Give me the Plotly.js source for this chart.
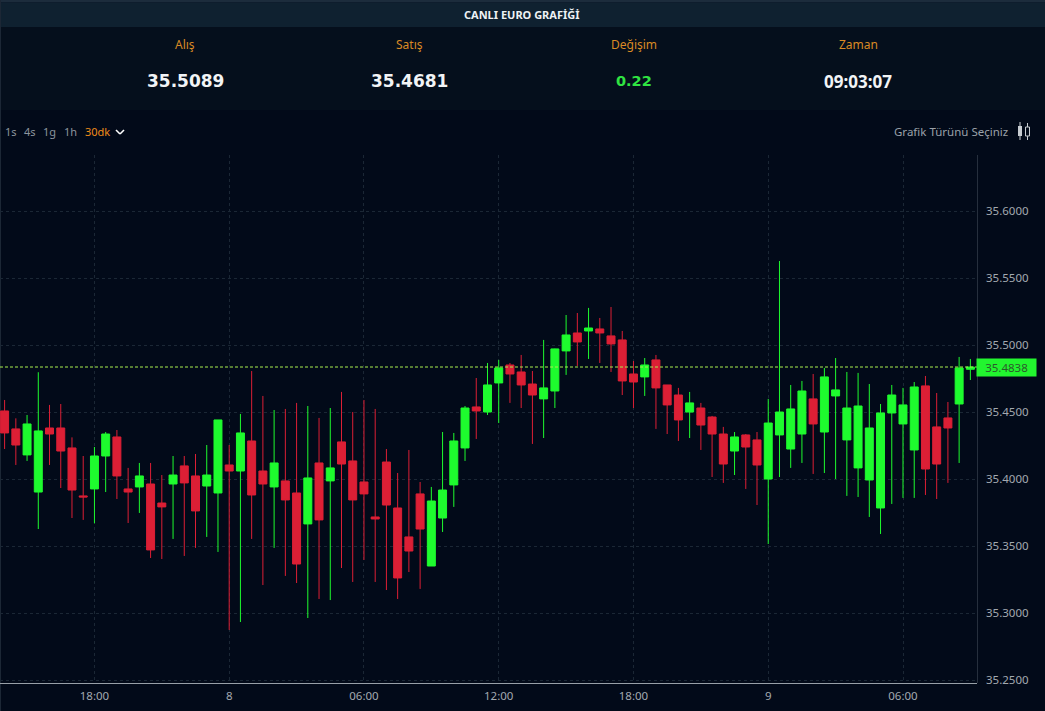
<!DOCTYPE html>
<html><head><meta charset="utf-8">
<script src="https://cdn.plot.ly/plotly-3.0.1.min.js"></script>
<style>html,body{margin:0;padding:0;background:#020a19;overflow:hidden}#c{width:1045px;height:711px}</style>
</head><body><div id="c"></div>
<script>
const startTime = '2024-11-07T14:00:00Z';
const opens = [35.4510,35.4376,35.4182,35.3905,35.4383,35.4383,35.4234,35.3876,35.3928,35.4174,35.4316,35.3928,35.3943,35.3965,35.3823,35.3965,35.4100,35.4025,35.3950,35.3898,35.4107,35.4062,35.4286,
35.4062,35.3943,35.3988,35.3898,35.3667,35.4122,35.3988,35.4279,35.4137,35.3980,35.3719,35.4129,35.3786,35.3570,35.3891,35.3353,35.3711,35.3958,35.4234,35.4540,35.4502,
35.4719,35.4853,35.4801,35.4711,35.4600,35.4659,35.4958,35.5092,35.5107,35.5122,35.5070,35.5040,35.4786,35.4764,35.4891,35.4704,35.4629,35.4502,35.4532,35.4465,35.4338,35.4211,35.4331,
35.4294,35.4002,35.4331,35.4226,35.4338,35.4600,35.4353,35.4622,35.4294,35.4085,35.3995,35.3786,35.4495,35.4413,35.4219,35.4697,35.4391,35.4458,35.4562,35.4821];
const highs = [35.4592,35.4455,35.4480,35.4799,35.4555,35.4562,35.4313,35.4174,35.4241,35.4353,35.4368,35.4085,35.4122,35.4122,35.4032,35.4174,35.4174,35.4189,35.4256,35.4443,35.4256,35.4488,35.4808,
35.4622,35.4517,35.4525,35.4570,35.4547,35.4458,35.4532,35.4652,35.4502,35.4592,35.4525,35.4226,35.4047,35.4219,35.3980,35.3943,35.4353,35.4346,35.4547,35.4756,35.4868,
35.4891,35.4868,35.4928,35.4808,35.5040,35.4975,35.5226,35.5241,35.5279,35.5204,35.5286,35.5107,35.4883,35.4905,35.4928,35.4704,35.4682,35.4652,35.4570,35.4473,35.4391,35.4353,35.4338,
35.4353,35.4600,35.5629,35.4704,35.4734,35.4786,35.4831,35.4905,35.4801,35.4794,35.4711,35.4562,35.4704,35.4682,35.4726,35.4771,35.4644,35.4577,35.4913,35.4898];
const lows = [35.4226,35.4107,35.4137,35.3629,35.4107,35.3935,35.3711,35.3697,35.3672,35.3905,35.3853,35.3674,35.3749,35.3413,35.3405,35.3555,35.3428,35.3488,35.3570,35.3458,35.2876,35.2935,35.3555,
35.3211,35.3488,35.3279,35.3226,35.2965,35.3107,35.3099,35.3338,35.3234,35.3398,35.3234,35.3174,35.3107,35.3308,35.3182,35.3353,35.3607,35.3794,35.4137,35.4301,35.4480,
35.4420,35.4570,35.4532,35.4264,35.4308,35.4532,35.4779,35.4846,35.4898,35.4868,35.4801,35.4629,35.4532,35.4622,35.4376,35.4338,35.4286,35.4308,35.4219,35.4017,35.3973,35.4032,35.3928,
35.3808,35.3517,35.4017,35.4085,35.4122,35.4040,35.4047,35.4002,35.3876,35.3868,35.3719,35.3592,35.3816,35.3861,35.3861,35.3883,35.3853,35.3973,35.4122,35.4741];
const closes = [35.4346,35.4256,35.4413,35.4361,35.4338,35.4211,35.3920,35.3868,35.4174,35.4338,35.4025,35.3905,35.4025,35.3473,35.3794,35.4032,35.3973,35.3764,35.4032,35.4443,35.4062,35.4346,35.3883,
35.3965,35.4122,35.3846,35.3368,35.4010,35.3697,35.4085,35.4114,35.3846,35.3891,35.3704,35.3808,35.3264,35.3465,35.3629,35.3838,35.3920,35.4286,35.4532,35.4510,35.4704,
35.4831,35.4786,35.4704,35.4629,35.4682,35.4973,35.5077,35.5025,35.5129,35.5092,35.5010,35.4734,35.4726,35.4853,35.4682,35.4555,35.4443,35.4570,35.4405,35.4338,35.4114,35.4316,35.4241,
35.4107,35.4420,35.4502,35.4525,35.4659,35.4413,35.4764,35.4667,35.4532,35.4547,35.4383,35.4495,35.4629,35.4555,35.4689,35.4077,35.4114,35.4383,35.4831,35.4838];
const lastPrice = 35.4838;
const priceTicks = [35.25,35.30,35.35,35.40,35.45,35.50,35.55,35.60];
const timeTicks = ['2024-11-07T18:00:00Z','2024-11-08T00:00:00Z','2024-11-08T06:00:00Z','2024-11-08T12:00:00Z','2024-11-08T18:00:00Z','2024-11-09T00:00:00Z','2024-11-09T06:00:00Z'];
const timeLabels = ['18:00','8','06:00','12:00','18:00','9','06:00'];
const headerTitle = 'CANLI EURO GRAFİĞİ';
const statLabels = ['Alış','Satış','Değişim','Zaman'];
const statValues = ['35.5089','35.4681','0.22','09:03:07'];
const intervals = ['1s','4s','1g','1h','30dk'];

const times = opens.map((_, i) => new Date(Date.parse(startTime) + i * 1800000).toISOString());

const L = 0, R = 977, T = 155, B = 683;
const px = v => (v - L) / (R - L);
const py = v => (B - v) / (B - T);
const rect = (x0, y0, x1, y1, color, layer) => ({type:'rect', xref:'paper', yref:'paper', x0:px(x0), x1:px(x1), y0:py(y0), y1:py(y1), fillcolor:color, line:{width:0}, layer:layer||'below'});
const seg = (x0, y0, x1, y1, color, w) => ({type:'line', xref:'paper', yref:'paper', x0:px(x0), x1:px(x1), y0:py(y0), y1:py(y1), line:{color, width:w||1}, layer:'above'});
const text = (s, x, y, size, color, family, anchor) => ({text:s, xref:'paper', yref:'paper', x:px(x), y:py(y), xanchor:anchor||'center', yanchor:'middle', showarrow:false, font:{size, color, family}});

const UI = '"Noto Sans", sans-serif';
const BOLD = '"DejaVu Sans", sans-serif';
const statX = [185, 409, 634, 858];
const intX = [11, 29.5, 49.5, 70, 97];
const valueSize = [17, 17, 14.5, 17];
const valueFont = [BOLD, BOLD, BOLD, UI];

const annotations = [
  text('<b>' + headerTitle + '</b>', 521.5, 14.5, 11, '#eef2f5', UI),
  ...statLabels.map((s, i) => text(s, statX[i], 44, 12, '#d98a24', UI)),
  ...statValues.map((s, i) => text('<b>' + s + '</b>', statX[i], 81, valueSize[i], i === 2 ? '#30e442' : '#f2f4f6', valueFont[i])),
  ...intervals.map((s, i) => text(s, intX[i], 131.5, 11, i === 4 ? '#f08c1a' : '#8d959e', UI)),
  text('Grafik Türünü Seçiniz', 1010, 131, 11.5, '#9aa1a9', UI, 'right'),
  {text:lastPrice.toFixed(4), xref:'paper', yref:'y', x:px(1006.5), y:lastPrice, xanchor:'center', yanchor:'middle', showarrow:false,
   font:{size:11.5, color:'#2c5a2c', family:UI}, bgcolor:'#22f52f', borderpad:1, width:57, height:15}
];

const shapes = [
  rect(0, 0, 1045, 2.5, '#1c2c3c'),
  rect(0, 2.5, 1045, 27, '#0f2130'),
  rect(0, 27, 1045, 110, '#050f1c'),
  rect(0, 0, 1, 711, '#1c2735'),
  {type:'line', xref:'paper', yref:'y', x0:0, x1:1, y0:lastPrice, y1:lastPrice, line:{color:'#a9ef4e', width:1, dash:'3px,2px'}, layer:'above'},
  seg(0, 683.5, 977, 683.5, '#98a0a8', 1.2),
  seg(977.5, 155, 977.5, 683, '#262f3d', 1),
  rect(978, 684, 1045, 711, '#020a19', 'above'),
  seg(116, 130, 120, 134, '#ffffff', 1.6),
  seg(120, 134, 124, 130, '#ffffff', 1.6),
  rect(1018, 126, 1022, 136, '#c7ccd1', 'above'),
  seg(1020, 122, 1020, 140, '#c7ccd1', 1),
  {type:'rect', xref:'paper', yref:'paper', x0:px(1025.5), x1:px(1029.5), y0:py(127), y1:py(136), line:{color:'#c7ccd1', width:1}, layer:'above'},
  seg(1027.5, 123, 1027.5, 127, '#c7ccd1', 1),
  seg(1027.5, 136, 1027.5, 140, '#c7ccd1', 1)
];

const trace = {
  type:'candlestick', x:times, open:opens, high:highs, low:lows, close:closes,
  increasing:{line:{color:'#1efb2e', width:1}, fillcolor:'#1efb2e'},
  decreasing:{line:{color:'#dc1f35', width:1}, fillcolor:'#dc1f35'},
  whiskerwidth:0, hoverinfo:'skip', showlegend:false
};

const layout = {
  width:1045, height:711, autosize:false,
  margin:{l:L, r:1045-R, t:T, b:711-B, pad:0},
  paper_bgcolor:'#020a19', plot_bgcolor:'#020a19',
  showlegend:false, shapes, annotations, boxgap:0.29, boxgroupgap:0,
  font:{family:UI, color:'#a3a9b0', size:12},
  xaxis:{type:'date', range:['2024-11-07T13:47:42Z','2024-11-09T09:17:42Z'], rangeslider:{visible:false},
    tickmode:'array', tickvals:timeTicks, ticktext:timeLabels, ticks:'', showline:false, zeroline:false, ticklabelstandoff:4,
    showgrid:true, gridcolor:'#1b2735', griddash:'3px,3px', gridwidth:1, tickfont:{size:11.5, color:'#a3a9b0', family:UI}},
  yaxis:{side:'right', range:[35.2480,35.6420], tickmode:'array', tickvals:priceTicks, ticktext:priceTicks.map(v=>v.toFixed(4)),
    ticks:'', showline:false, zeroline:false, showgrid:true, gridcolor:'#1b2735', griddash:'3px,3px', gridwidth:1, ticklabelstandoff:8,
    tickfont:{size:11.5, color:'#a3a9b0', family:UI}, automargin:false}
};
Plotly.newPlot('c', [trace], layout, {displayModeBar:false, staticPlot:true});
</script></body></html>
